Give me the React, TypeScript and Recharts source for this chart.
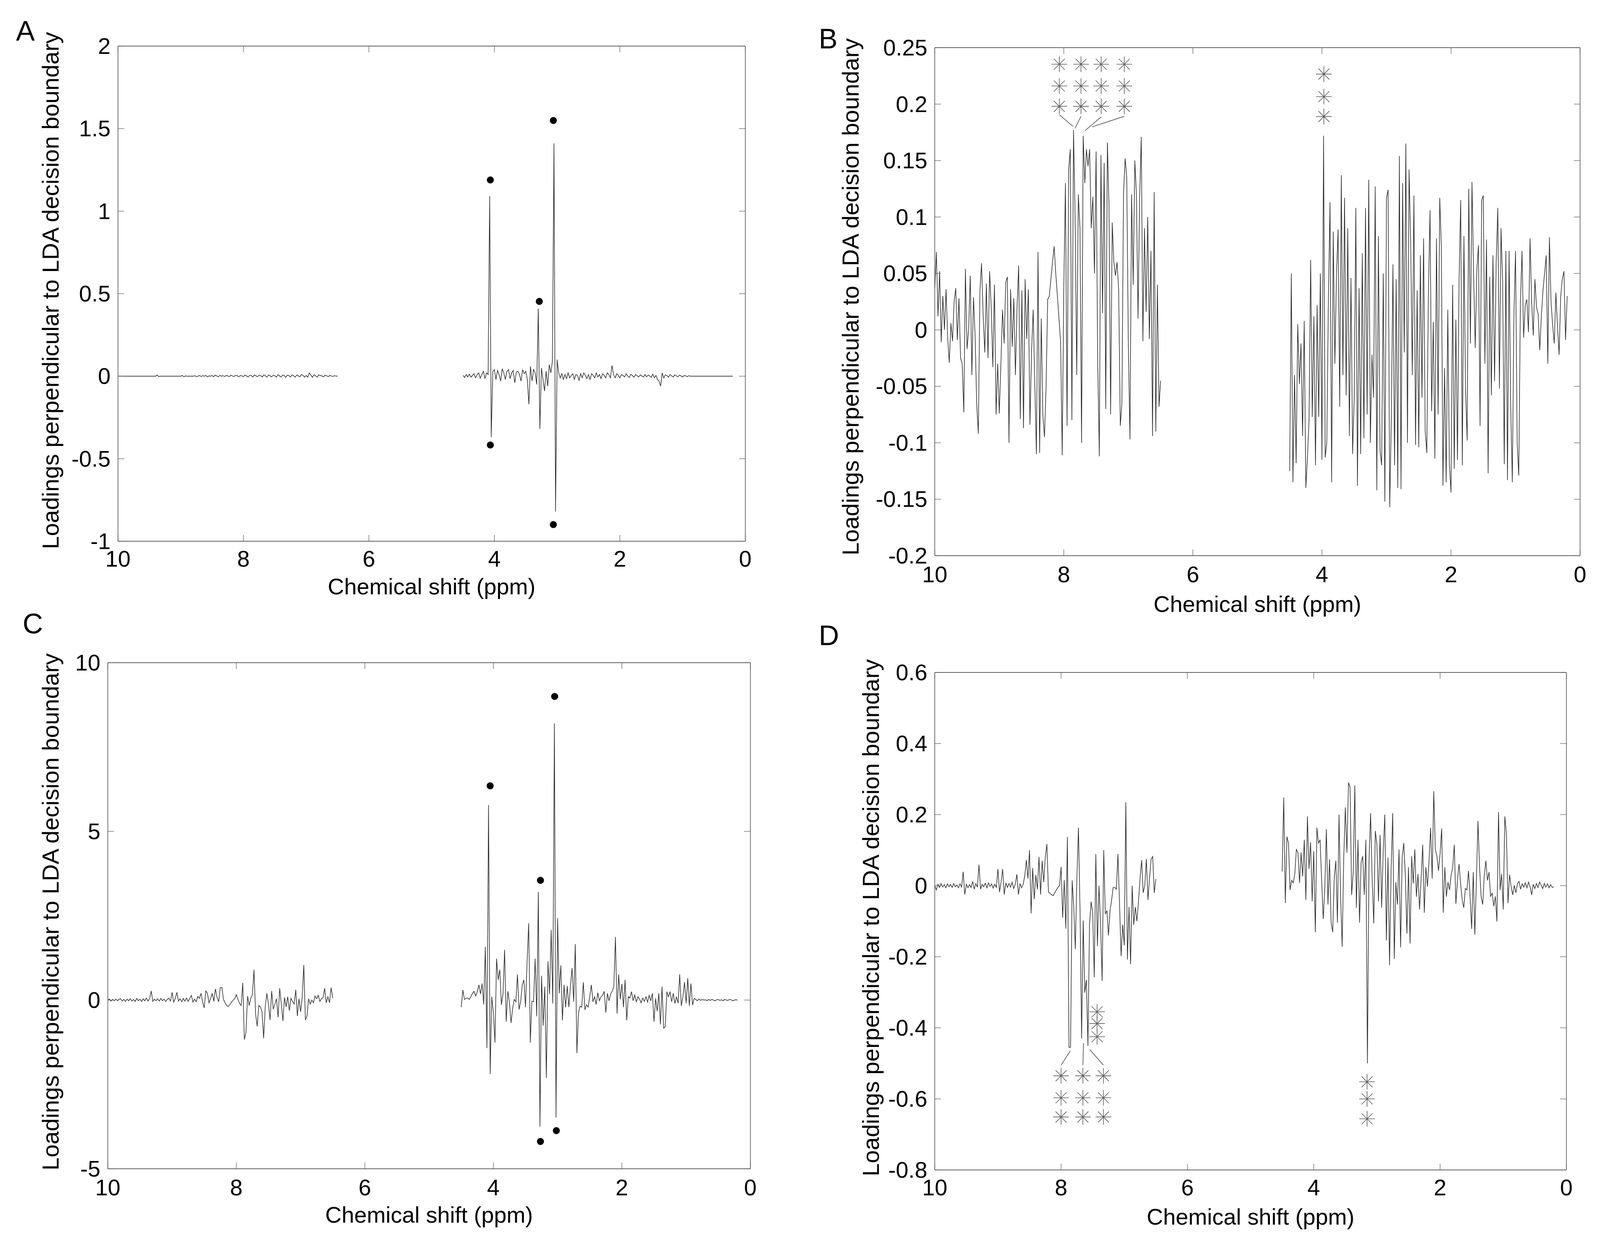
import React from 'react';
import { ComposedChart, Line, Scatter, XAxis, YAxis, ReferenceLine } from 'recharts';

// ---------- text ----------
const X_LABEL = 'Chemical shift (ppm)';
const Y_LABEL = 'Loadings perpendicular to LDA decision boundary';
const PANEL_LETTERS = ['A', 'B', 'C', 'D'];

// ---------- ticks ----------
const X_TICKS = [10, 8, 6, 4, 2, 0];
const A_Y_TICKS = [-1, -0.5, 0, 0.5, 1, 1.5, 2];
const B_Y_TICKS = [-0.2, -0.15, -0.1, -0.05, 0, 0.05, 0.1, 0.15, 0.2, 0.25];
const C_Y_TICKS = [-5, 0, 5, 10];
const D_Y_TICKS = [-0.8, -0.6, -0.4, -0.2, 0, 0.2, 0.4, 0.6];

// ---------- chemical shift grid (ppm) ----------
const PPM_LEFT = [
  10, 9.975, 9.95, 9.925, 9.9, 9.875, 9.85, 9.825, 9.8, 9.775,
  9.75, 9.725, 9.7, 9.675, 9.65, 9.625, 9.6, 9.575, 9.55, 9.525,
  9.5, 9.475, 9.45, 9.425, 9.4, 9.375, 9.35, 9.325, 9.3, 9.275,
  9.25, 9.225, 9.2, 9.175, 9.15, 9.125, 9.1, 9.075, 9.05, 9.025,
  9, 8.975, 8.95, 8.925, 8.9, 8.875, 8.85, 8.825, 8.8, 8.775,
  8.75, 8.725, 8.7, 8.675, 8.65, 8.625, 8.6, 8.575, 8.55, 8.525,
  8.5, 8.475, 8.45, 8.425, 8.4, 8.375, 8.35, 8.325, 8.3, 8.275,
  8.25, 8.225, 8.2, 8.175, 8.15, 8.125, 8.1, 8.075, 8.05, 8.025,
  8, 7.975, 7.95, 7.925, 7.9, 7.875, 7.85, 7.825, 7.8, 7.775,
  7.75, 7.725, 7.7, 7.675, 7.65, 7.625, 7.6, 7.575, 7.55, 7.525,
  7.5, 7.475, 7.45, 7.425, 7.4, 7.375, 7.35, 7.325, 7.3, 7.275,
  7.25, 7.225, 7.2, 7.175, 7.15, 7.125, 7.1, 7.075, 7.05, 7.025,
  7, 6.975, 6.95, 6.925, 6.9, 6.875, 6.85, 6.825, 6.8, 6.775,
  6.75, 6.725, 6.7, 6.675, 6.65, 6.625, 6.6, 6.575, 6.55, 6.525,
  6.5,
];
const PPM_GAP = 5.5; // water region removed
const PPM_RIGHT = [
  4.5, 4.475, 4.45, 4.425, 4.4, 4.375, 4.35, 4.325, 4.3, 4.275,
  4.25, 4.225, 4.2, 4.175, 4.15, 4.125, 4.1, 4.075, 4.05, 4.025,
  4, 3.975, 3.95, 3.925, 3.9, 3.875, 3.85, 3.825, 3.8, 3.775,
  3.75, 3.725, 3.7, 3.675, 3.65, 3.625, 3.6, 3.575, 3.55, 3.525,
  3.5, 3.475, 3.45, 3.425, 3.4, 3.375, 3.35, 3.325, 3.3, 3.275,
  3.25, 3.225, 3.2, 3.175, 3.15, 3.125, 3.1, 3.075, 3.05, 3.025,
  3, 2.975, 2.95, 2.925, 2.9, 2.875, 2.85, 2.825, 2.8, 2.775,
  2.75, 2.725, 2.7, 2.675, 2.65, 2.625, 2.6, 2.575, 2.55, 2.525,
  2.5, 2.475, 2.45, 2.425, 2.4, 2.375, 2.35, 2.325, 2.3, 2.275,
  2.25, 2.225, 2.2, 2.175, 2.15, 2.125, 2.1, 2.075, 2.05, 2.025,
  2, 1.975, 1.95, 1.925, 1.9, 1.875, 1.85, 1.825, 1.8, 1.775,
  1.75, 1.725, 1.7, 1.675, 1.65, 1.625, 1.6, 1.575, 1.55, 1.525,
  1.5, 1.475, 1.45, 1.425, 1.4, 1.375, 1.35, 1.325, 1.3, 1.275,
  1.25, 1.225, 1.2, 1.175, 1.15, 1.125, 1.1, 1.075, 1.05, 1.025,
  1, 0.975, 0.95, 0.925, 0.9, 0.875, 0.85, 0.825, 0.8, 0.775,
  0.75, 0.725, 0.7, 0.675, 0.65, 0.625, 0.6, 0.575, 0.55, 0.525,
  0.5, 0.475, 0.45, 0.425, 0.4, 0.375, 0.35, 0.325, 0.3, 0.275,
  0.25, 0.225, 0.2,
];

// ---------- panel A loadings ----------
const A_LEFT = [
  0, 0, 0, 0, 0, 0, 0, 0, 0, 0,
  0, 0, 0, 0, 0, 0, 0, 0, 0, 0,
  0, 0, 0, 0, 0, 0.007, -0.003, 0, 0, 0,
  0, 0, 0, 0, 0, 0, 0, 0, 0, 0,
  0, 0.005, -0.004, 0.002, 0, 0, 0, 0, 0, 0.003,
  -0.003, 0, 0.004, -0.002, 0.003, 0, 0.005, -0.004, 0.002, 0,
  0.004, -0.003, 0.006, 0.002, -0.004, 0.005, 0, 0.003, -0.002, 0.004,
  0.002, -0.003, 0.006, 0.001, -0.002, 0.005, 0.003, -0.004, 0.004, 0.002,
  -0.003, 0.007, 0.002, -0.005, 0.006, 0.003, -0.004, 0.008, 0.002, -0.003,
  0.006, 0.004, -0.005, 0.008, 0.003, -0.006, 0.007, 0.002, -0.004, 0.006,
  0.003, -0.006, 0.009, 0.002, -0.005, 0.007, 0.004, -0.007, 0.006, 0.003,
  -0.005, 0.008, 0.003, -0.006, 0.007, 0.002, -0.004, 0.01, 0.004, -0.006,
  0.004, -0.006, 0.02, 0.006, -0.007, 0.009, 0.003, -0.006, 0.008, 0.004,
  0.002, -0.004, 0.005, 0.003, -0.003, 0.004, 0.002, -0.002, 0.003, 0.001,
  0,
];
const A_RIGHT = [
  0.005, -0.008, 0.01, -0.005, 0.012, -0.006, 0.004, 0.015, -0.01, 0.008,
  0.02, -0.012, 0.01, 0.03, -0.015, 0.02, 0.01, 1.09, -0.37, 0.03,
  0.04, -0.02, 0.035, 0.01, -0.03, 0.045, 0.02, -0.02, 0.03, 0.04,
  -0.015, 0.02, 0.035, -0.04, 0.025, 0.03, 0.01, -0.03, 0.04, 0.015,
  0.03, -0.02, -0.17, 0.06, -0.03, 0.04, 0.02, -0.05, 0.41, -0.32,
  0.05, -0.02, -0.09, 0.03, -0.06, 0.07, 0.02, 0.09, 1.41, -0.82,
  0.1, 0.02, -0.01, 0.015, -0.02, 0.01, -0.015, 0.02, -0.01, 0.005,
  0.015, -0.02, 0.01, 0.005, -0.025, 0.015, -0.01, 0.02, 0.005, -0.015,
  0.01, -0.02, 0.015, 0.005, -0.01, 0.02, -0.005, 0.01, -0.015, 0.015,
  0.005, -0.01, 0.02, 0.01, -0.01, 0.065, 0.01, -0.01, 0.015, 0.005,
  -0.01, 0.01, 0.005, -0.005, 0.015, 0.002, -0.008, 0.012, 0.004, -0.006,
  0.01, 0.003, -0.005, 0.008, 0.002, -0.006, 0.01, -0.004, 0.006, 0.002,
  -0.008, 0.012, -0.01, 0.005, -0.02, -0.03, -0.06, 0.02, -0.01, 0.008,
  0.004, -0.006, 0.01, 0.002, -0.005, 0.008, 0.003, -0.004, 0.006, 0.002,
  -0.005, 0.004, 0.002, -0.003, 0.003, 0, 0, 0, 0, 0,
  0, 0, 0, 0, 0, 0, 0, 0, 0, 0,
  0, 0, 0, 0, 0, 0, 0, 0, 0, 0,
  0, 0, 0,
];

// ---------- panel B loadings ----------
const B_LEFT = [
  0.037, 0.069, 0.012, 0.052, -0.011, 0.03, 0.0, 0.036, -0.007, -0.029,
  0.006, -0.01, 0.025, 0.037, -0.009, 0.028, -0.025, -0.03, -0.073, 0.054,
  -0.017, 0.0, 0.048, -0.04, 0.029, -0.005, -0.066, -0.092, 0.035, 0.059,
  0.012, -0.02, 0.041, -0.025, 0.052, 0.02, -0.033, 0.04, -0.075, -0.03,
  -0.074, -0.03, 0.018, -0.012, 0.042, 0.047, -0.1, 0.036, -0.015, 0.028,
  -0.04, 0.02, 0.057, -0.079, 0.035, -0.087, 0.045, -0.008, 0.036, -0.084,
  -0.02, 0.018, -0.048, -0.11, 0.069, -0.109, 0.01, -0.075, -0.095, -0.05,
  0.027, 0.03, 0.045, 0.06, 0.074, 0.05, 0.03, 0.01, -0.011, -0.111,
  0.04, 0.13, -0.085, 0.142, 0.16, -0.08, 0.177, 0.1, -0.04, 0.12,
  0.09, -0.1, 0.172, 0.13, 0.16, 0.145, 0.16, 0.09, 0.118, 0.05,
  0.158, -0.03, -0.112, 0.155, 0.015, 0.148, -0.07, 0.166, 0.11, -0.075,
  0.095, 0.06, 0.048, 0.06, 0.035, -0.085, -0.065, 0.12, 0.152, 0.135,
  -0.015, -0.097, 0.12, 0.04, 0.15, 0.12, 0.01, 0.118, 0.171, -0.01,
  0.09, 0.016, 0.1, -0.008, 0.07, -0.094, 0.122, -0.09, 0.04, -0.068,
  -0.045,
];
const B_RIGHT = [
  -0.125, 0.05, -0.135, -0.04, -0.118, 0.005, -0.048, -0.012, -0.094, 0.008,
  -0.14, -0.113, -0.08, 0.062, -0.077, 0.012, -0.12, 0.022, -0.077, 0.05,
  -0.115, 0.172, -0.113, -0.1, 0.028, 0.113, -0.135, 0.087, -0.03, 0.049,
  0.089, -0.068, 0.137, -0.04, 0.117, -0.058, 0.09, -0.094, 0.046, -0.11,
  -0.06, 0.108, -0.138, 0.037, -0.11, 0.068, -0.096, 0.108, -0.075, 0.133,
  -0.1, -0.022, -0.06, 0.127, -0.142, 0.083, -0.107, -0.12, 0.05, -0.152,
  0.117, 0.124, -0.157, -0.08, 0.058, -0.12, 0.045, -0.14, 0.154, -0.141,
  0.13, -0.02, 0.165, -0.1, 0.142, 0.077, -0.04, 0.119, -0.102, 0.035,
  -0.104, 0.066, -0.06, 0.081, -0.09, -0.109, 0.035, 0.106, -0.072, 0.007,
  -0.114, 0.081, -0.075, 0.117, 0.075, -0.138, -0.034, -0.135, 0.018, -0.12,
  -0.144, 0.04, -0.123, 0.009, -0.115, 0.045, 0.115, -0.12, 0.083, -0.052,
  -0.098, 0.125, -0.012, 0.131, 0.05, -0.016, 0.053, 0.075, -0.085, 0.115,
  0.119, -0.03, 0.08, -0.127, 0.047, -0.058, 0.066, -0.045, 0.06, 0.108,
  -0.052, 0.09, 0.043, -0.119, 0.07, -0.133, 0.07, -0.068, -0.135, 0.014,
  0.07, -0.1, -0.129, 0.024, 0.07, -0.007, 0.022, 0.027, -0.002, 0.081,
  0.024, -0.005, 0.045, 0.02, 0.014, -0.018, 0.012, 0.035, 0.05, 0.066,
  -0.03, 0.082, 0.025, 0.004, -0.012, 0.033, 0.003, -0.022, 0.03, 0.045,
  0.052, -0.009, 0.03,
];

// ---------- panel C loadings ----------
const C_LEFT = [
  0, 0.03, -0.03, 0.02, -0.02, 0.03, -0.02, 0.02, 0.04, -0.03,
  0.02, -0.04, 0.03, -0.02, 0.04, -0.03, 0.02, -0.04, 0.05, -0.02,
  0.03, -0.04, 0.04, -0.02, 0.06, -0.03, 0.04, 0.27, -0.04, 0.03,
  -0.02, 0.04, -0.03, 0.05, -0.02, 0.03, -0.04, 0.02, 0.06, -0.03,
  0.23, -0.06, 0.05, 0.23, -0.03, 0.04, -0.05, 0.05, -0.03, 0.06,
  -0.04, 0.05, 0.14, -0.06, 0.03, -0.05, 0.11, 0.05, 0.2, -0.05,
  -0.23, 0.27, 0.2, -0.08, 0.05, 0.2, -0.04, 0.33, 0.08, -0.05,
  0.37, 0.37, 0.02, -0.08, -0.16, -0.19, -0.13, -0.06, 0, 0.04,
  0.16, 0.02, -0.1, -0.16, 0.51, -1.17, -0.96, 0.12, -0.16, 0.05,
  0.16, 0.9, -0.41, -0.78, -0.16, -0.2, -0.35, -1.13, -0.2, 0.2,
  -0.12, -0.59, 0.27, -0.27, -0.12, 0.04, -0.51, 0.35, -0.12, -0.62,
  0.08, -0.2, 0.1, -0.31, 0.05, -0.04, -0.12, 0.31, -0.47, 0.04,
  -0.35, 0.08, 1.04, -0.59, -0.47, 0.04, -0.12, 0, -0.08, 0.12,
  0.04, 0.14, -0.04, 0.04, 0.08, 0.35, -0.08, 0.1, -0.08, 0.37,
  0.06,
];
const C_RIGHT = [
  -0.21, 0.3, 0.02, 0.05, 0.06, 0.02, 0.1, 0.2, 0.26, 0.12,
  0.25, 0.45, 0.18, 0.49, -0.13, 1.58, -1.42, 5.78, -2.19, 0.1,
  -0.37, -1.26, 1.23, 0.6, 0.9, -0.14, 0.18, 1.49, -0.64, 0.26,
  -0.05, -0.68, -0.25, 0.02, -0.05, 0.76, -0.28, -0.05, 0.45, 0.6,
  -0.21, 1.15, 2.28, -1.26, -0.03, -0.05, 1.23, -0.48, 3.21, -3.75,
  0.72, -0.76, 0.4, -2.31, 1.15, 0.18, 2.08, -0.1, 8.2, -3.48,
  2.43, 0.2, 1.03, -0.6, 0.45, -0.21, 0.42, -0.21, 0.42, 0.95,
  -0.05, 1.66, -1.57, -0.37, -0.18, -0.21, 0.53, -0.29, -0.14, -0.21,
  0.1, 0.45, -0.05, 0.1, -0.13, 0.22, -0.02, 0.1, 0.14, 0.26,
  -0.37, 0.2, -0.02, 0.18, 0.26, 0.41, 1.87, -0.4, 0.76, 0.02,
  0.48, -0.21, 0.6, -0.6, 0.1, 0.06, 0.25, -0.02, 0.15, -0.05,
  0.1, 0.03, -0.08, 0.06, -0.04, 0.1, -0.06, 0.14, -0.02, 0.2,
  -0.64, 0.05, -0.33, 0.2, -0.72, 0.4, -0.83, -0.79, 0.25, 0.1,
  0.25, -0.05, 0.2, -0.1, 0.1, -0.09, 0.76, -0.17, 0.1, 0.53,
  -0.09, 0.65, -0.17, 0.49, -0.15, 0.05, 0.02, -0.02, 0.03, -0.01,
  0.02, 0, 0.01, -0.02, 0.02, -0.01, 0.02, 0, -0.02, 0.01,
  0.02, -0.01, 0.01, -0.02, 0.02, 0, -0.01, 0.02, 0.01, -0.02,
  0, 0.01, 0,
];

// ---------- panel D loadings ----------
const D_LEFT = [
  0, -0.012, 0.004, -0.005, 0.006, -0.004, 0.003, -0.006, 0.005, -0.003,
  0.004, -0.005, 0.006, -0.003, 0.002, -0.006, 0.005, -0.004, 0.039, -0.025,
  0.004, -0.006, 0.003, -0.005, 0.012, -0.01, 0.006, -0.004, 0.059, -0.01,
  0.004, -0.003, 0.007, -0.006, 0.008, -0.002, 0.005, -0.007, 0.004, -0.005,
  0.047, -0.018, 0.01, 0.047, -0.025, 0.008, -0.005, 0.006, -0.004, 0.01,
  -0.008, 0.004, 0.032, -0.025, 0.006, -0.006, 0.004, 0.028, 0.072, 0.02,
  0.1, -0.078, 0.05, -0.038, 0.03, -0.01, 0.081, -0.025, 0.07, 0.01,
  0.08, 0.117, -0.018, -0.022, -0.026, -0.028, -0.02, -0.012, -0.005, 0,
  0.053, -0.09, 0.016, -0.121, 0.137, -0.455, -0.455, 0.015, -0.058, -0.178,
  0.02, 0.163, -0.071, -0.43, -0.098, -0.301, -0.265, -0.451, -0.11, -0.045,
  -0.075, -0.258, 0.089, -0.17, 0, -0.11, -0.268, 0.1, -0.08, -0.07,
  -0.14, -0.07, -0.04, -0.005, -0.005, -0.01, 0.089, -0.05, -0.198, -0.11,
  -0.168, 0.235, -0.208, -0.06, -0.221, 0, -0.11, -0.06, -0.1, -0.045,
  0.02, 0.072, -0.02, 0, 0.075, -0.04, 0.02, 0.075, 0.082, -0.02,
  0.019,
];
const D_RIGHT = [
  0.04, 0.248, -0.049, 0.138, 0.12, -0.012, 0.015, 0.008, 0.033, 0.102,
  0.093, 0.008, 0.093, 0.026, 0.129, -0.04, 0.195, 0.047, 0.122, -0.044,
  0.097, -0.131, 0.163, 0.12, 0.129, 0.015, -0.094, -0.008, 0.159, -0.053,
  0.074, -0.104, -0.131, 0.024, 0.07, -0.104, 0.2, -0.031, -0.172, 0.081,
  0.22, 0.093, 0.29, 0.277, -0.026, 0.038, 0.282, -0.062, 0.129, -0.104,
  0.065, 0.083, -0.026, 0.129, -0.5, 0.07, 0.204, 0.015, -0.106, 0.154,
  0.115, -0.044, 0.143, -0.062, 0.097, 0.2, -0.154, 0.079, -0.224, 0.047,
  0.204, -0.206, 0.01, -0.053, 0.102, -0.174, 0.079, 0.12, 0.029, -0.135,
  0.052, -0.163, 0.083, 0.006, 0.102, -0.031, 0.033, -0.067, 0.02, 0.115,
  -0.076, 0.052, -0.003, 0.07, 0.163, 0.02, 0.266, 0.102, 0.083, 0.042,
  0.09, 0.161, -0.076, 0.052, -0.031, 0.01, -0.012, 0.03, 0.052, 0.115,
  -0.051, 0.015, 0.061, 0.006, -0.04, -0.062, -0.008, -0.012, 0.042, -0.031,
  -0.122, 0.038, -0.138, 0.015, 0.182, 0.052, -0.031, -0.053, 0.03, 0.07,
  0.015, 0.038, -0.031, -0.02, -0.058, -0.03, -0.101, 0.207, -0.012, 0.033,
  -0.067, 0.195, 0.147, -0.049, 0.031, -0.003, -0.026, 0.001, -0.02, 0.006,
  0.012, -0.01, 0.005, -0.004, 0.008, -0.006, 0.01, -0.003, -0.026, 0.004,
  -0.008, 0.006, -0.005, 0.01, 0.002, -0.008, 0.006, -0.004, 0.005, -0.006,
  0.003, -0.005, -0.003,
];

// ---------- highlighted variables (filled circles, panels A and C) ----------
const A_DOT_X = [4.064, 4.064, 3.284, 3.06, 3.06];
const A_DOT_Y = [1.189, -0.417, 0.453, 1.549, -0.899];
const C_DOT_X = [4.05, 3.267, 3.046, 3.267, 3.02];
const C_DOT_Y = [6.35, 3.55, 9.0, -4.19, -3.87];

// ---------- significance asterisks (panels B and D) ----------
const B_STAR_X = [8.07, 7.734, 7.421, 7.063, 8.07, 7.734, 7.421, 7.063, 8.07, 7.734, 7.421, 7.063, 3.97, 3.97, 3.97];
const B_STAR_Y = [0.2353, 0.2353, 0.2353, 0.2353, 0.216, 0.216, 0.216, 0.216, 0.198, 0.198, 0.198, 0.198, 0.2266, 0.2066, 0.189];
const D_STAR_X = [8.0, 7.655, 7.33, 8.0, 7.655, 7.33, 8.0, 7.655, 7.33, 7.43, 7.43, 7.43, 3.156, 3.156, 3.156];
const D_STAR_Y = [-0.535, -0.535, -0.535, -0.597, -0.597, -0.597, -0.651, -0.651, -0.651, -0.355, -0.388, -0.425, -0.552, -0.6, -0.656];

// leader lines from asterisk columns to peaks: [x1, y1, x2, y2] in data units
const B_LINKS = [
  [8.068, 0.1905, 7.858, 0.1803],
  [7.734, 0.1892, 7.826, 0.1785],
  [7.421, 0.1887, 7.671, 0.1765],
  [7.063, 0.1892, 7.56, 0.1798],
];
const D_LINKS = [
  [8.0, -0.505, 7.855, -0.465],
  [7.655, -0.505, 7.645, -0.443],
  [7.33, -0.505, 7.548, -0.461],
];

// ---------- style ----------
const FONT = '"Liberation Sans", Arial, Helvetica, sans-serif';
const TICK_FS = 58;
const XLABEL_FS = 58;
const YLABEL_FS = 60;
const LETTER_FS = 72;
const TICK_LEN = 16;
const TICK_COLOR = '#555555';
const AXIS_LINE = { stroke: '#2b2b2b', strokeWidth: 1.3 };
const SPECTRUM_COLOR = '#2e2e2e';
const PANEL_W = 2100;
const PANEL_H = 1580;
const AXIS_SIZE = 1; // axes need a non-zero box to be drawn

type Pt = { x: number; y: number | null };

function buildSpectrum(left: number[], right: number[]): Pt[] {
  const pts: Pt[] = [];
  PPM_LEFT.forEach((x, i) => pts.push({ x, y: i < left.length ? left[i] : null }));
  pts.push({ x: PPM_GAP, y: null });
  PPM_RIGHT.forEach((x, i) => pts.push({ x, y: i < right.length ? right[i] : null }));
  return pts;
}
function zipPts(xs: number[], ys: number[]) {
  return xs.map((x, i) => ({ x, y: ys[i] }));
}

const DotShape = (p: any) => <circle cx={p.cx} cy={p.cy} r={9} fill="#000" />;
const StarShape = (p: any) => {
  const { cx, cy } = p;
  const a = 20;
  const d = 14;
  return (
    <g stroke="#5a5a5a" strokeWidth={1.6}>
      <line x1={cx - a} y1={cy} x2={cx + a} y2={cy} />
      <line x1={cx} y1={cy - a} x2={cx} y2={cy + a} />
      <line x1={cx - d} y1={cy - d} x2={cx + d} y2={cy + d} />
      <line x1={cx - d} y1={cy + d} x2={cx + d} y2={cy - d} />
    </g>
  );
};

type Plot = { left: number; top: number; right: number; bottom: number }; // plot box, panel-local px

type PanelCfg = {
  left: number;
  top: number;
  plot: Plot;
  data: Pt[];
  yDomain: [number, number];
  yTicks: number[];
  xTickDy: number;
  xLabelDy: number;
  yLabelX: number;
  yLabelY: number;
  dots?: { x: number; y: number }[];
  stars?: { x: number; y: number }[];
  links?: number[][];
};

function Panel({ cfg }: { cfg: PanelCfg }) {
  const P = cfg.plot;
  const margin = {
    top: P.top - AXIS_SIZE,
    left: P.left - AXIS_SIZE,
    right: PANEL_W - P.right - AXIS_SIZE,
    bottom: PANEL_H - P.bottom - AXIS_SIZE,
  };
  const plotCx = (P.left + P.right) / 2;

  const bottomTick = (p: any) => (
    <g>
      <line x1={p.x} x2={p.x} y1={P.bottom} y2={P.bottom - TICK_LEN} stroke={TICK_COLOR} strokeWidth={1.2} />
      <text x={p.x} y={P.bottom + cfg.xTickDy} textAnchor="middle" fontSize={TICK_FS} fontFamily={FONT} fill="#000">
        {String(p.payload.value)}
      </text>
    </g>
  );
  const topTick = (p: any) => (
    <line x1={p.x} x2={p.x} y1={P.top} y2={P.top + TICK_LEN} stroke={TICK_COLOR} strokeWidth={1.2} />
  );
  const leftTick = (p: any) => (
    <g>
      <line x1={P.left} x2={P.left + TICK_LEN} y1={p.y} y2={p.y} stroke={TICK_COLOR} strokeWidth={1.2} />
      <text x={P.left - 19} y={p.y + 20} textAnchor="end" fontSize={TICK_FS} fontFamily={FONT} fill="#000">
        {String(p.payload.value)}
      </text>
    </g>
  );
  const rightTick = (p: any) => (
    <line x1={P.right} x2={P.right - TICK_LEN} y1={p.y} y2={p.y} stroke={TICK_COLOR} strokeWidth={1.2} />
  );
  const xLabel = () => (
    <text x={plotCx} y={P.bottom + cfg.xLabelDy} textAnchor="middle" fontSize={XLABEL_FS} fontFamily={FONT} fill="#000">
      {X_LABEL}
    </text>
  );
  const yLabel = () => (
    <text
      x={cfg.yLabelX}
      y={cfg.yLabelY}
      transform={`rotate(-90 ${cfg.yLabelX} ${cfg.yLabelY})`}
      textAnchor="middle"
      fontSize={YLABEL_FS}
      fontFamily={FONT}
      fill="#000"
    >
      {Y_LABEL}
    </text>
  );

  return (
    <div style={{ position: 'absolute', left: cfg.left, top: cfg.top, width: PANEL_W, height: PANEL_H }}>
      <ComposedChart width={PANEL_W} height={PANEL_H} margin={margin} data={cfg.data}>
        <XAxis
          dataKey="x"
          type="number"
          domain={[0, 10]}
          ticks={X_TICKS}
          reversed
          allowDataOverflow
          interval={0}
          height={AXIS_SIZE}
          tickSize={0}
          tickMargin={0}
          tickLine={false}
          axisLine={AXIS_LINE}
          tick={bottomTick}
          label={xLabel}
        />
        <XAxis
          xAxisId="top"
          orientation="top"
          dataKey="x"
          type="number"
          domain={[0, 10]}
          ticks={X_TICKS}
          reversed
          allowDataOverflow
          interval={0}
          height={AXIS_SIZE}
          tickSize={0}
          tickMargin={0}
          tickLine={false}
          axisLine={AXIS_LINE}
          tick={topTick}
        />
        <YAxis
          type="number"
          domain={cfg.yDomain}
          ticks={cfg.yTicks}
          allowDataOverflow
          interval={0}
          width={AXIS_SIZE}
          tickSize={0}
          tickMargin={0}
          tickLine={false}
          axisLine={AXIS_LINE}
          tick={leftTick}
          label={yLabel}
        />
        <YAxis
          yAxisId="right"
          orientation="right"
          type="number"
          domain={cfg.yDomain}
          ticks={cfg.yTicks}
          allowDataOverflow
          interval={0}
          width={AXIS_SIZE}
          tickSize={0}
          tickMargin={0}
          tickLine={false}
          axisLine={AXIS_LINE}
          tick={rightTick}
        />
        <Line
          type="linear"
          dataKey="y"
          stroke={SPECTRUM_COLOR}
          strokeWidth={1.6}
          dot={false}
          activeDot={false}
          connectNulls={false}
          isAnimationActive={false}
        />
        {(cfg.links || []).map((l, i) => (
          <ReferenceLine
            key={`lk${i}`}
            segment={[{ x: l[0], y: l[1] }, { x: l[2], y: l[3] }]}
            stroke="#333"
            strokeWidth={1.4}
            ifOverflow="visible"
          />
        ))}
        {cfg.stars && (
          <Scatter data={cfg.stars} dataKey="y" shape={StarShape} isAnimationActive={false} />
        )}
        {cfg.dots && (
          <Scatter data={cfg.dots} dataKey="y" shape={DotShape} isAnimationActive={false} />
        )}
      </ComposedChart>
    </div>
  );
}

const PANELS: PanelCfg[] = [
  {
    left: 0,
    top: 0,
    plot: { left: 302, top: 118, right: 1908, bottom: 1386 },
    data: buildSpectrum(A_LEFT, A_RIGHT),
    yDomain: [-1, 2],
    yTicks: A_Y_TICKS,
    xTickDy: 65,
    xLabelDy: 136,
    yLabelX: 150,
    yLabelY: 744,
    dots: zipPts(A_DOT_X, A_DOT_Y),
  },
  {
    left: 2100,
    top: 0,
    plot: { left: 293, top: 122, right: 1945, bottom: 1423 },
    data: buildSpectrum(B_LEFT, B_RIGHT),
    yDomain: [-0.2, 0.25],
    yTicks: B_Y_TICKS,
    xTickDy: 68,
    xLabelDy: 144,
    yLabelX: 98,
    yLabelY: 760,
    stars: zipPts(B_STAR_X, B_STAR_Y),
    links: B_LINKS,
  },
  {
    left: 0,
    top: 1580,
    plot: { left: 276, top: 117, right: 1921, bottom: 1413 },
    data: buildSpectrum(C_LEFT, C_RIGHT),
    yDomain: [-5, 10],
    yTicks: C_Y_TICKS,
    xTickDy: 68,
    xLabelDy: 138,
    yLabelX: 150,
    yLabelY: 755,
    dots: zipPts(C_DOT_X, C_DOT_Y),
  },
  {
    left: 2100,
    top: 1580,
    plot: { left: 293, top: 142, right: 1910, bottom: 1416 },
    data: buildSpectrum(D_LEFT, D_RIGHT),
    yDomain: [-0.8, 0.6],
    yTicks: D_Y_TICKS,
    xTickDy: 65,
    xLabelDy: 140,
    yLabelX: 150,
    yLabelY: 770,
    stars: zipPts(D_STAR_X, D_STAR_Y),
    links: D_LINKS,
  },
];

const LETTER_POS = [
  { x: 41, y: 104 },
  { x: 2096, y: 124 },
  { x: 58, y: 1622 },
  { x: 2096, y: 1652 },
];

export default function App() {
  return (
    <div style={{ position: 'absolute', left: 0, top: 0, width: 4200, height: 3160, background: '#ffffff', overflow: 'hidden' }}>
      {PANELS.map((cfg, i) => (
        <Panel key={i} cfg={cfg} />
      ))}
      <svg width={4200} height={3160} style={{ position: 'absolute', left: 0, top: 0, pointerEvents: 'none' }}>
        {PANEL_LETTERS.map((t, i) => (
          <text key={t} x={LETTER_POS[i].x} y={LETTER_POS[i].y} fontSize={LETTER_FS} fontFamily={FONT} fill="#000">
            {t}
          </text>
        ))}
      </svg>
    </div>
  );
}
